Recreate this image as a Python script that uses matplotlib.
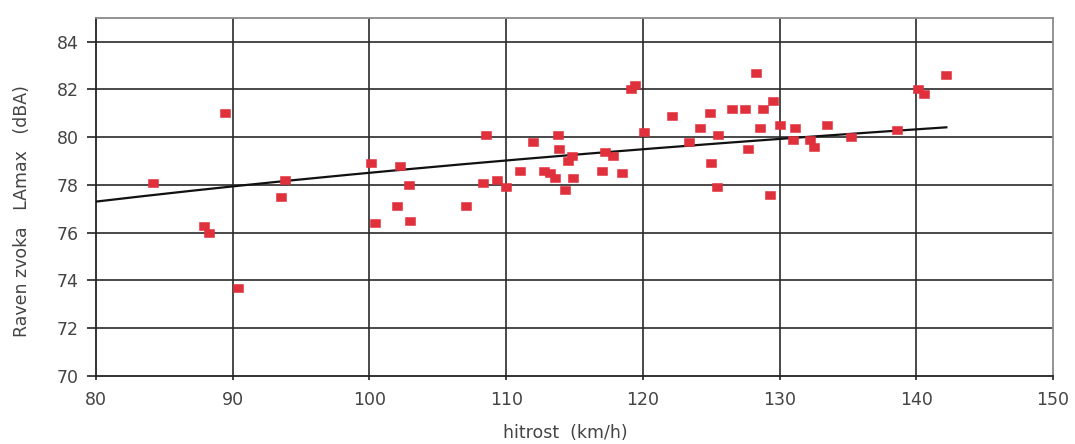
import numpy as np
import matplotlib
matplotlib.use("Agg")
import matplotlib.pyplot as plt
from matplotlib.path import Path

# Measured vehicle pass-bys: speed (km/h) and maximum A-weighted level (dBA)
speed = [84.2, 87.9, 88.3, 89.4, 90.4, 93.5, 93.8,
         100.1, 100.4, 102.0, 102.2, 102.9, 103.0,
         107.1, 108.3, 108.5, 109.3, 110.0, 111.0, 112.0,
         112.8, 113.2, 113.6, 113.8, 113.9, 114.3, 114.5, 114.8, 114.9,
         117.0, 117.2, 117.8, 118.5, 119.1, 119.4, 120.1,
         122.1, 123.4, 124.2, 124.9, 125.0, 125.4, 125.5,
         126.5, 127.5, 127.7, 128.3, 128.6, 128.8, 129.3, 129.5, 130.0,
         131.0, 131.1, 132.2, 132.5, 133.5, 135.2,
         138.6, 140.1, 140.6, 142.2]
level = [78.1, 76.3, 76.0, 81.0, 73.7, 77.5, 78.2,
         78.9, 76.4, 77.1, 78.8, 78.0, 76.5,
         77.1, 78.1, 80.1, 78.2, 77.9, 78.6, 79.8,
         78.6, 78.5, 78.3, 80.1, 79.5, 77.8, 79.0, 79.2, 78.3,
         78.6, 79.4, 79.2, 78.5, 82.0, 82.2, 80.2,
         80.9, 79.8, 80.4, 81.0, 78.9, 77.9, 80.1,
         81.2, 81.2, 79.5, 82.7, 80.4, 81.2, 77.6, 81.5, 80.5,
         79.9, 80.4, 79.9, 79.6, 80.5, 80.0,
         80.3, 82.0, 81.8, 82.6]

# Regression: LAmax = a + b * log10(v)
fit_a = 53.61
fit_b = 12.45
fit_range = [80.0, 142.2]

x_ticks = [80, 90, 100, 110, 120, 130, 140, 150]
y_ticks = [70, 72, 74, 76, 78, 80, 82, 84]

plt.rcParams['font.family'] = ['DejaVu Sans']

fig = plt.figure(figsize=(10.75, 4.44), dpi=100)
ax = fig.add_axes([96 / 1075, 1 - 376 / 444, (1053 - 96) / 1075, (376 - 17.8) / 444])

ax.set_xlim(80, 150)
ax.set_ylim(70, 85)
ax.set_xticks(x_ticks)
ax.set_yticks(y_ticks)

grid_col = '#2a2a2a'
for xv in x_ticks[1:-1]:
    ax.axvline(xv, color=grid_col, lw=1.2, zorder=1)
for yv in y_ticks[1:]:
    ax.axhline(yv, color=grid_col, lw=1.2, zorder=1)

ax.spines['left'].set_color('#222222')
ax.spines['bottom'].set_color('#222222')
ax.spines['top'].set_color('#8a8a8a')
ax.spines['right'].set_color('#8a8a8a')
for s in ax.spines.values():
    s.set_linewidth(1.3)

txt_col = '#444444'
ax.tick_params(axis='y', direction='out', length=6.5, width=1.2, pad=6,
               labelsize=12.5, labelcolor=txt_col, color='#222222')
ax.tick_params(axis='x', direction='out', length=3, width=1.2, pad=8,
               labelsize=12.5, labelcolor=txt_col, color='#222222')

xs = np.linspace(fit_range[0], fit_range[1], 200)
ax.plot(xs, fit_a + fit_b * np.log10(xs), color='#111111', lw=1.6, zorder=3)

# slightly flattened square marker
rect = Path([(-1, -0.72), (1, -0.72), (1, 0.72), (-1, 0.72), (-1, -0.72)],
            [Path.MOVETO, Path.LINETO, Path.LINETO, Path.LINETO, Path.CLOSEPOLY])
ax.plot(speed, level, linestyle='none', marker=rect, markersize=7.4,
        markerfacecolor='#e0303c', markeredgecolor='#e0303c',
        markeredgewidth=0.4, zorder=4)

fig.text(22 / 1075, 1 - 211 / 444, 'Raven zvoka   LAmax   (dBA)', rotation=90,
         ha='center', va='center', fontsize=12.5, color=txt_col)
fig.text(565 / 1075, 1 - 433 / 444, 'hitrost  (km/h)', ha='center', va='center',
         fontsize=12.5, color=txt_col)

fig.savefig('out.png', dpi=100)
